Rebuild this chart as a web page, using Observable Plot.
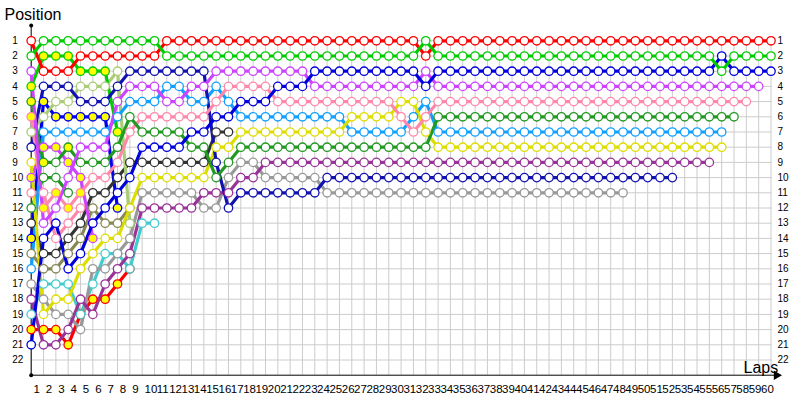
<!DOCTYPE html>
<html><head><meta charset="utf-8">
<script src="https://cdn.jsdelivr.net/npm/d3@7"></script>
<script src="https://cdn.jsdelivr.net/npm/@observablehq/plot@0.6"></script>
<style>body{margin:0;background:#fff} #chart svg{display:block}</style>
</head><body><div id="chart"></div>
<script>
// Position of each car at the end of each lap (index 0 = grid)
const car01 = [1,3,3,3,2,2,2,2,2,2, 2,1,1,1,1,1,1,1,1,1, 1,1,1,1,1,1,1,1,1,1, 1,1,2,1,1,1,1,1,1,1, 1,1,1,1,1,1,1,1,1,1, 1,1,1,1,1,1,1,1,1,1, 1];
const car02 = [2,1,1,1,1,1,1,1,1,1, 1,2,2,2,2,2,2,2,2,2, 2,2,2,2,2,2,2,2,2,2, 2,2,1,2,2,2,2,2,2,2, 2,2,2,2,2,2,2,2,2,2, 2,2,2,2,2,2,3,2,2,2, 2];
const car03 = [3,13,12,10,8,8,8,5,4,4, 4,5,5,4,4,3,3,3,3,3, 3,3,3,4,4,4,4,4,4,4, 4,4,3,4,4,4,4,4,4,4, 4,4,4,4,4,4,4,4,4,4, 4,4,4,4,4,4,4,4,4,4];
const car04 = [4,2,2,2,3,3,3,7];
const car05 = [5,9,9,8,9,9,9,8,6,7, 7,7,7,8,8,10,9,8,8,8, 8,8,8,8,8,8,8,8,8,8, 8,8,8,6,6,6,6,6,6,6, 6,6,6,6,6,6,6,6,6,6, 6,6,6,6,6,6,6,6];
const car06 = [6,12,11,12,11,10,10,9,7,6, 6,6,6,6,6,5,4,4,4,4, 5,5,5,5,5,5,5,5,5,5, 6,7,6,5,5,5,5,5,5,5, 5,5,5,5,5,5,5,5,5,5, 5,5,5,5,5,5,5,5,5];
const car07 = [7,6,5,5,4,4,4,3,13];
const car08 = [8,4,4,4,5,5,5,4,3,3, 3,3,3,3,3,9,12,11,11,11, 11,11,11,11,10,10,10,10,10,10, 10,10,10,10,10,10,10,10,10,10, 10,10,10,10,10,10,10,10,10,10, 10,10,10];
const car09 = [9,19,18,18,16,15,14,14,12,10, 10,10,10,10,10,8,8,7,7,7, 7,7,7,7,7,7,6,6,6,6, 5,5,7,8,8,8,8,8,8,8, 8,8,8,8,8,8,8,8,8,8, 8,8,8,8,8,8,8];
const car10 = [10,8,8,9,10,14];
const car11 = [11,11,14,13,12];
const car12 = [12,10,10,11];
const car13 = [13,15,15,14,13,11,11,10,9,9, 9,9,9,9,9,7,7];
const car14 = [14,5,6,6,6,6,6,12];
const car15 = [15,16,16,15,14,12,13,13,12];
const car16 = [16,7,7,7,7,7,7,6,5,5, 5,4,4,5,5,4,5,6,6,6, 6,6,6,6,6,6,7,7,7,7, 7,6,5,7,7,7,7,7,7,7, 7,7,7,7,7,7,7,7,7,7, 7,7,7,7,7,7,7];
const car17 = [17,18,19,19,20,16,16,15,14,11, 11,11,11,11,12,12,10,9,9,10, 10,10,10,10,11,11,11,11,11,11, 11,11,11,11,11,11,11,11,11,11, 11,11,11,11,11,11,11,11,11];
const car18 = [18,21,21,20,18,19,17,16,15,12, 12,12,12,12,11,11,11,10,10,9, 9,9,9,9,9,9,9,9,9,9, 9,9,9,9,9,9,9,9,9,9, 9,9,9,9,9,9,9,9,9,9, 9,9,9,9,9,9];
const car19 = [19,17,17,17,19,17,15,15,16,13, 13];
const car20 = [20,20,20,21,19,18,18,17,16];
const car21 = [21,14,13,16,15,13,12,11,10,8, 8,8,8,7,7,6,6,5,5,5, 4,4,4,3,3,3,3,3,3,3, 3,3,4,3,3,3,3,3,3,3, 3,3,3,3,3,3,3,3,3,3, 3,3,3,3,3,3,2,3,3,3, 3];

// Laps on which a car is shown with a highlighted (filled) marker
const marked04 = [0,1,2,3,4,5,6,7];
const marked05 = [0,1,3];
const marked06 = [0,1,2,3,4];
const marked10 = [0,1,2,3,4,5];
const marked14 = [0,1,2,3,4,5,6,7];
const marked20 = [0,1,2,3,4,5,6,7,8];

const cars = [car01,car02,car03,car04,car05,car06,car07,car08,car09,car10,car11,car12,car13,car14,car15,car16,car17,car18,car19,car20,car21];
const markedLaps = {3: marked04, 4: marked05, 5: marked06, 9: marked10, 13: marked14, 19: marked20};
const carColors = ["#ff0000","#00cc00","#cc44ff","#00cc00","#229922","#ff88aa","#aacc77","#1212b0","#dddd00","#cc44ff","#ff88aa","#229922","#333333","#0000ee","#888855","#11a0ff","#999999","#993399","#44cccc","#ff0000","#0000dd"];

const lapTicks = d3.range(1, 61);
const gridLaps = d3.range(0, 61);
const positionTicks = d3.range(1, 23);

const rowsFor = (i) => cars[i].map((p, lap) => ({car: i, lap, pos: p, marked: (markedLaps[i] || []).includes(lap)}));

const drawOrder = [19,18,16,14,13,12,11,10,9,6,3,17,15,8,7,5,4,2,20,0,1];
const carMarks = [];
for (const i of drawOrder) {
  carMarks.push(Plot.line(rowsFor(i), {x: "lap", y: "pos", stroke: carColors[i], strokeWidth: 3.2}));
}
for (const i of drawOrder) {
  carMarks.push(Plot.dot(rowsFor(i), {x: "lap", y: "pos", r: 4.2, stroke: carColors[i], strokeWidth: 1.3, fill: d => d.marked ? "#ffff00" : "#ffffff"}));
}

const font = "Liberation Sans, Arial, sans-serif";
const chart = Plot.plot({
  width: 800, height: 400,
  marginTop: 0, marginRight: 0, marginBottom: 0, marginLeft: 0,
  style: {background: "#fff", fontFamily: font},
  x: {type: "linear", domain: [0, 60], range: [30.7, 770.5], axis: null},
  y: {type: "linear", domain: [1, 23], range: [40.3, 374.7], axis: null},
  color: {type: "identity"},
  marks: [
    Plot.ruleX(gridLaps, {x: d => d, y1: 1, y2: 23, stroke: "#cccccc", strokeWidth: 1}),
    Plot.ruleY(positionTicks, {y: d => d, x1: 0, x2: 60.1, stroke: "#cccccc", strokeWidth: 1}),
    Plot.ruleX([0], {y1: 0, y2: 23, stroke: "#000", strokeWidth: 1}),
    Plot.ruleY([23], {x1: 0, x2: 60.4, stroke: "#000", strokeWidth: 1}),
    Plot.dot([[0, 0], [0, 23]], {x: d => d[0], y: d => d[1], r: 2, fill: "#000"}),
    Plot.dot([[60.45, 23]], {x: d => d[0], y: d => d[1], symbol: "triangle", rotate: 90, r: 3.5, fill: "#000"}),
    ...carMarks,
    Plot.text(lapTicks, {x: d => d, y: 23, dy: 14, dx: -10, text: d => String(d), textAnchor: "start", fontSize: 11.5, fill: "#000"}),
    Plot.text(positionTicks, {x: 0, y: d => d, dx: -19, text: d => String(d), textAnchor: "start", fontSize: 10, fill: "#000"}),
    Plot.text(positionTicks, {x: 60, y: d => d, dx: 6.5, text: d => String(d), textAnchor: "start", fontSize: 10, fill: "#000"}),
    Plot.text(["Position"], {frameAnchor: "top-left", dx: 4, dy: 8, text: d => d, textAnchor: "start", lineAnchor: "top", fontSize: 16, fill: "#000"}),
    Plot.text(["Laps"], {frameAnchor: "bottom-right", dx: -57, dy: -28, text: d => d, textAnchor: "start", lineAnchor: "bottom", fontSize: 16, fill: "#000"})
  ]
});
document.getElementById("chart").appendChild(chart);
</script>
</body></html>
